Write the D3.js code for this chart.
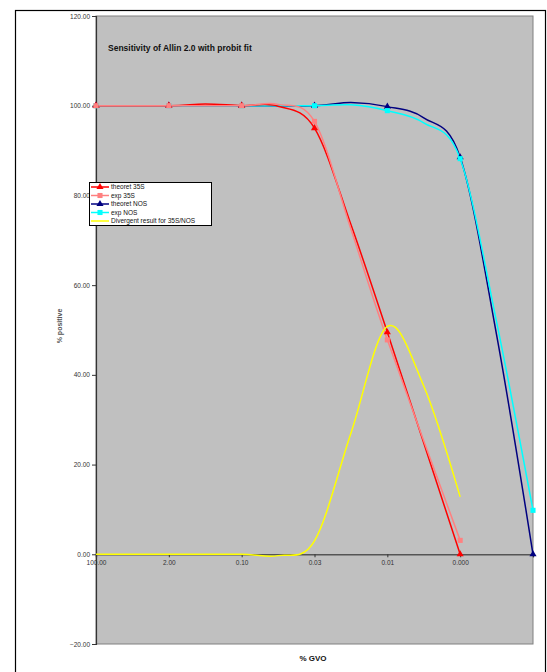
<!DOCTYPE html>
<html>
<head>
<meta charset="utf-8">
<script src="https://cdn.jsdelivr.net/npm/d3@7/dist/d3.min.js"></script>
<style>
  body { margin: 0; background: #fff; }
  svg { display: block; font-family: Arial, "Liberation Sans", sans-serif; }
</style>
</head>
<body>
<svg id="chart" width="547" height="672"></svg>
<script>
// x categories on a half-step grid: labels on every other slot (last slot has no label)
const categories = ["100.00", "", "2.00", "", "0.10", "", "0.03", "", "0.01", "", "0.000", "", ""];
const yTicks = [-20, 0, 20, 40, 60, 80, 100, 120];

// series values, one per slot (null = not read / no point)
const theoret35S = [100, null, 100, 100.4, 100, 99.9, 95, 73.5, 49.5, null, 0, null, null];
const exp35S     = [100, null, 100, null, 100, 100.3, 96.5, 72.5, 47.8, null, 3.1, null, null];
const theoretNOS = [100, null, 100, null, 100, null, 100, 100.7, 99.8, 97.3, 88.5, 48.9, 0];
const expNOS     = [100, null, 100, null, 100, null, 100, 100.2, 98.9, 96.2, 88.2, 51.8, 9.8];
const divergent  = [0, null, 0, null, 0, -0.3, 3, 27, 50.8, 37.5, 12.8, null, null];

const svg = d3.select('#chart');

const plot = {left: 96, top: 16, right: 533, bottom: 644};

const x = d3.scaleLinear()
            .domain([0, categories.length - 1])
            .range([plot.left, plot.right]);
const y = d3.scaleLinear()
            .domain([-20, 120])
            .range([plot.bottom, plot.top]);

// outer chart frame
svg.append('rect')
   .attr('x', 15.5).attr('y', 10.5)
   .attr('width', 530).attr('height', 700)
   .attr('fill', 'white')
   .attr('stroke', '#000')
   .attr('stroke-width', 1.2);

// plot area
svg.append('rect')
   .attr('x', plot.left).attr('y', plot.top)
   .attr('width', plot.right - plot.left)
   .attr('height', plot.bottom - plot.top)
   .attr('fill', '#c0c0c0')
   .attr('stroke', '#808080')
   .attr('stroke-width', 1);

// y axis
const yAxis = d3.axisLeft(y)
                .tickValues(yTicks)
                .tickSize(4)
                .tickFormat(d3.format('.2f'));
const gy = svg.append('g')
              .attr('transform', `translate(${plot.left},0)`)
              .call(yAxis);
gy.select('.domain').attr('stroke', '#333').attr('stroke-width', 1.2);
gy.selectAll('.tick line').attr('stroke', '#333');
gy.selectAll('.tick text')
  .attr('font-size', 6.5)
  .attr('fill', '#333')
  .attr('x', -6)
  .style('font-family', 'Arial, "Liberation Sans", sans-serif');

// x axis sitting on y = 0, ticks only on labelled slots
const xAxis = d3.axisBottom(x)
                .tickValues(d3.range(0, categories.length, 2))
                .tickSize(3)
                .tickFormat(i => categories[i]);
const gx = svg.append('g')
              .attr('transform', `translate(0,${y(0)})`)
              .call(xAxis);
gx.select('.domain').attr('stroke', '#555').attr('stroke-width', 1.5);
gx.selectAll('.tick line').attr('stroke', '#333');
gx.selectAll('.tick text')
  .attr('font-size', 6.5)
  .attr('fill', '#333')
  .attr('y', 6)
  .style('font-family', 'Arial, "Liberation Sans", sans-serif');

// titles
svg.append('text')
   .attr('x', 108).attr('y', 51)
   .attr('font-size', 8.5)
   .attr('font-weight', 'bold')
   .attr('fill', '#111')
   .text('Sensitivity of Allin 2.0 with probit fit');

svg.append('text')
   .attr('x', 313).attr('y', 661)
   .attr('text-anchor', 'middle')
   .attr('font-size', 8)
   .attr('font-weight', 'bold')
   .attr('fill', '#111')
   .text('% GVO');

svg.append('text')
   .attr('transform', 'translate(62,326) rotate(-90)')
   .attr('text-anchor', 'middle')
   .attr('font-size', 7)
   .attr('font-weight', 'bold')
   .attr('fill', '#555')
   .text('% positive');

// series
const series = [
  {name: 'theoret 35S', values: theoret35S, color: '#ff0000', marker: 'triangle'},
  {name: 'exp 35S', values: exp35S, color: '#ff8080', marker: 'square'},
  {name: 'theoret NOS', values: theoretNOS, color: '#000080', marker: 'triangle'},
  {name: 'exp NOS', values: expNOS, color: '#00ffff', marker: 'square'},
  {name: 'Divergent result for 35S/NOS', values: divergent, color: '#ffff00', marker: null}
];
// draw order: the lighter ones go on top as in the reference
const drawOrder = [2, 3, 0, 1, 4];

const line = d3.line()
               .x(d => x(d.i))
               .y(d => y(d.v))
               .curve(d3.curveCardinal.tension(0));

const sym = {
  triangle: d3.symbol().type(d3.symbolTriangle).size(22),
  square: d3.symbol().type(d3.symbolSquare).size(26)
};

const points = s => s.values.map((v, i) => ({i: i, v: v})).filter(d => d.v !== null);

drawOrder.forEach(k => {
  const s = series[k];
  svg.append('path')
     .datum(points(s))
     .attr('fill', 'none')
     .attr('stroke', s.color)
     .attr('stroke-width', 1.5)
     .attr('d', line);
});
// markers sit on the labelled slots only
drawOrder.forEach(k => {
  const s = series[k];
  if (!s.marker) return;
  svg.selectAll(null)
     .data(points(s).filter(d => d.i % 2 === 0))
     .enter()
     .append('path')
     .attr('d', sym[s.marker])
     .attr('transform', d => `translate(${x(d.i)},${y(d.v)})`)
     .attr('fill', s.color);
});

// legend
const legend = svg.append('g').attr('transform', 'translate(89,182)');
legend.append('rect')
      .attr('x', 0.5).attr('y', 0.5)
      .attr('width', 122).attr('height', 43)
      .attr('fill', 'white')
      .attr('stroke', '#000')
      .attr('stroke-width', 1);
series.forEach((s, i) => {
  const ly = 5 + i * 8.5;
  legend.append('line')
        .attr('x1', 2).attr('x2', 20)
        .attr('y1', ly).attr('y2', ly)
        .attr('stroke', s.color)
        .attr('stroke-width', 1.5);
  if (s.marker) {
    legend.append('path')
          .attr('d', sym[s.marker])
          .attr('transform', `translate(11,${ly})`)
          .attr('fill', s.color);
  }
  legend.append('text')
        .attr('x', 22).attr('y', ly + 2.3)
        .attr('font-size', 6.5)
        .attr('fill', '#111')
        .text(s.name);
});
</script>
</body>
</html>
